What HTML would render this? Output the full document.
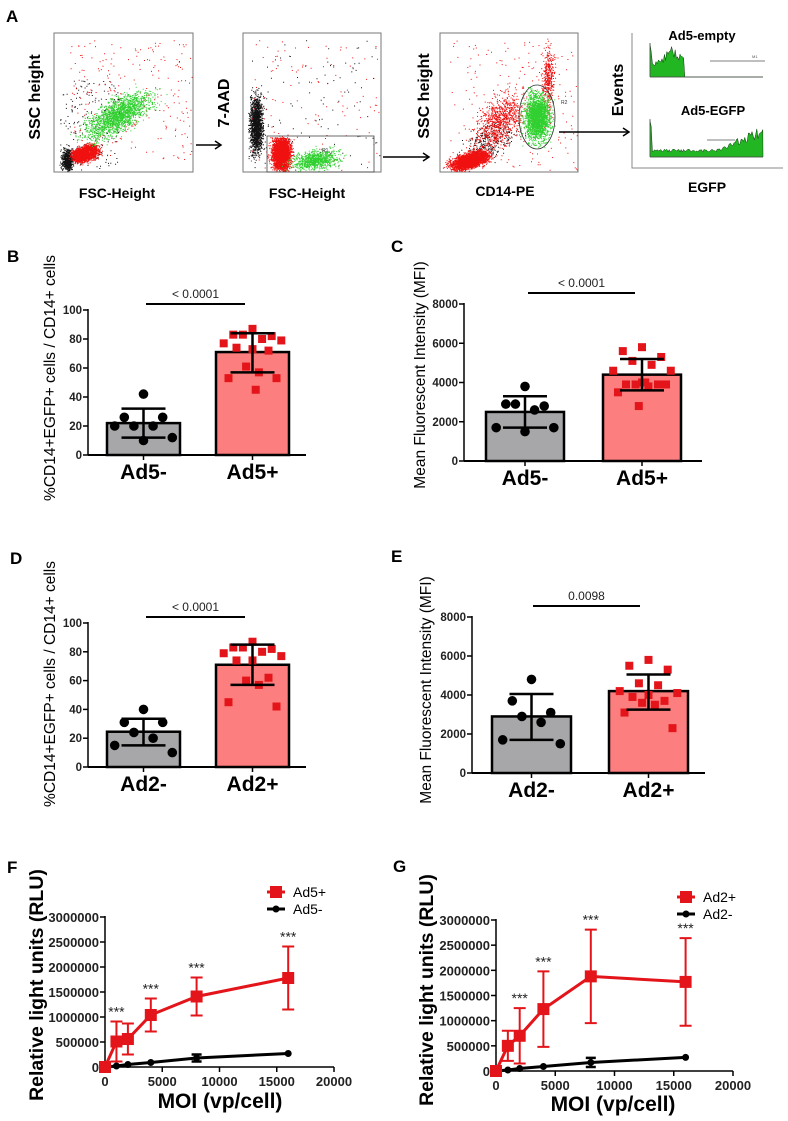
<!DOCTYPE html>
<html><head><meta charset="utf-8">
<style>
html,body{margin:0;padding:0;background:#fff;}
svg{display:block;font-family:"Liberation Sans",Arial,sans-serif;}
</style></head>
<body>
<svg id="fig" width="788" height="1121" viewBox="0 0 788 1121" xmlns="http://www.w3.org/2000/svg">
<g id="panelA">
  <text x="6" y="22" font-size="17" font-weight="bold">A</text>
  <rect x="54" y="33" width="139" height="139" fill="none" stroke="#777" stroke-width="1"/>
  <rect x="243" y="33" width="138" height="139" fill="none" stroke="#777" stroke-width="1"/>
  <rect x="440" y="33" width="138" height="139" fill="none" stroke="#777" stroke-width="1"/>
  <g id="dots"></g>
  <rect x="267" y="136" width="107" height="36" fill="none" stroke="#444" stroke-width="0.8"/>
  <text x="322" y="152" font-size="5" fill="#333">R1</text>
  <ellipse cx="537" cy="117" rx="18" ry="32" fill="none" stroke="#333" stroke-width="0.8"/>
  <text x="561" y="104" font-size="5" fill="#333">R2</text>
  <text transform="translate(40,97) rotate(-90)" text-anchor="middle" font-size="16" font-weight="bold">SSC height</text>
  <text x="117" y="198" text-anchor="middle" font-size="14" font-weight="bold">FSC-Height</text>
  <text transform="translate(229,103) rotate(-90)" text-anchor="middle" font-size="16" font-weight="bold">7-AAD</text>
  <text x="307" y="198" text-anchor="middle" font-size="14" font-weight="bold">FSC-Height</text>
  <text transform="translate(429,96) rotate(-90)" text-anchor="middle" font-size="16" font-weight="bold">SSC height</text>
  <text x="505" y="196" text-anchor="middle" font-size="14" font-weight="bold">CD14-PE</text>
  <text transform="translate(623,90) rotate(-90)" text-anchor="middle" font-size="16" font-weight="bold">Events</text>
  <text x="707" y="192" text-anchor="middle" font-size="14" font-weight="bold">EGFP</text>
  <text x="702" y="40" text-anchor="middle" font-size="13" font-weight="bold">Ad5-empty</text>
  <text x="713" y="115" text-anchor="middle" font-size="13" font-weight="bold">Ad5-EGFP</text>
  <polyline points="632,33 632,168 783,168" fill="none" stroke="#888" stroke-width="1"/>
  <g id="hists"></g>
  <line x1="710" y1="61" x2="765" y2="61" stroke="#555" stroke-width="0.8"/>
  <text x="752" y="58" font-size="4" fill="#555">M1</text>
  <line x1="707" y1="140" x2="735" y2="140" stroke="#555" stroke-width="0.8"/>
  <g stroke="#000" stroke-width="1.5" fill="none">
    <line x1="196" y1="145" x2="220" y2="145"/><polyline points="215,141 221,145 215,149"/>
    <line x1="383" y1="157" x2="428" y2="157"/><polyline points="423,153 429,157 423,161"/>
    <line x1="559" y1="132" x2="628" y2="132"/><polyline points="623,128 629,132 623,136"/>
  </g>
</g>
<g id="charts"></g>
</svg>
<script>
// ---------- Bar chart data ----------
const barCatsB = ["Ad5-","Ad5+"];
const barMeansB = [22, 71];
const barLowB = [12, 57];
const barHighB = [32, 84];
const ptsB0 = [42,26,26,20,20,20,12,10];
const ptsB1 = [87,83,82,83,80,77,79,73,74,72,61,57,53,53,45];

const barCatsC = ["Ad5-","Ad5+"];
const barMeansC = [2500, 4400];
const barLowC = [1700, 3600];
const barHighC = [3300, 5200];
const ptsC0 = [3800,2900,2800,2900,2600,1700,1700,1500];
const ptsC1 = [5800,5600,5300,5100,4900,4600,4600,4000,3900,3900,3900,3800,3500,3900,4000,2800];

const barCatsD = ["Ad2-","Ad2+"];
const barMeansD = [24.5, 71];
const barLowD = [15, 57];
const barHighD = [33.5, 85];
const ptsD0 = [40,31,31,24,20,15,10];
const ptsD1 = [87,83,82,83,80,79,77,74,74,62,60,57,45,42];

const barCatsE = ["Ad2-","Ad2+"];
const barMeansE = [2900, 4200];
const barLowE = [1700, 3250];
const barHighE = [4050, 5050];
const ptsE0 = [4800,3700,3100,2900,2600,1700,1500];
const ptsE1 = [5800,5500,5300,4600,4500,4200,4100,4000,3900,3700,3600,3500,3100,2300];

const pctTicks = [0,20,40,60,80,100];
const mfiTicks = [0,2000,4000,6000,8000];
const pLabelB = "< 0.0001", pLabelC = "< 0.0001", pLabelD = "< 0.0001", pLabelE = "0.0098";

// ---------- Line chart data ----------
const moiX = [0,1000,2000,4000,8000,16000];
const fPos = [0,510000,560000,1040000,1410000,1780000];
const fPosErr = [0,400000,310000,330000,380000,630000];
const fNeg = [0,20000,50000,90000,180000,270000];
const fNegErr = [0,0,0,0,70000,0];
const fStars = [0,1,0,1,1,1];
const gPos = [0,500000,700000,1230000,1880000,1770000];
const gPosErr = [0,300000,550000,750000,930000,870000];
const gNeg = [0,20000,50000,90000,170000,270000];
const gNegErr = [0,0,0,0,90000,0];
const gStars = [0,0,1,1,1,1];
const rluTicks = [0,500000,1000000,1500000,2000000,2500000,3000000];
const moiTicks = [0,5000,10000,15000,20000];

const NS = "http://www.w3.org/2000/svg";
const charts = document.getElementById('charts');
function mk(tag, attrs, parent){
  const e = document.createElementNS(NS, tag);
  for (const k in attrs) e.setAttribute(k, attrs[k]);
  (parent||charts).appendChild(e);
  return e;
}
function txt(x,y,s,size,weight,anchor,parent,fill){
  const t = mk('text',{x:x,y:y,'font-size':size,'font-weight':weight||'normal','text-anchor':anchor||'start',fill:fill||'#000'},parent);
  t.textContent = s;
  return t;
}
const jit = [0,-12,12,-6,6,-18,18,0,-10,10,-4,4,-15,15,2,-2];

function barPanel(o){
  const g = mk('g',{});
  
  
  const y = v => o.y0 - (v - o.min)/(o.max - o.min)*(o.y0 - o.yTop);
  const lbl = txt(o.letterX, o.letterY, o.letter, 17, 'bold', 'start', g);
  
  
  const tt = txt(0,0,o.title,o.titleSize,'normal','middle',g);
  tt.setAttribute('transform','translate('+o.titleX+','+o.titleY+') rotate(-90)');
  
  
  for (let i=0;i<2;i++){
    const xl = o.barX[i], w = o.barW;
    const b = mk('rect',{x:xl,y:y(o.means[i]),width:w,height:o.y0-y(o.means[i]),fill:i?'#fc7e7e':'#a7a7aa',stroke:'#000','stroke-width':2.5},g);
    
    
  }
  const ax = mk('line',{x1:o.ax,y1:o.yTop-1,x2:o.ax,y2:o.y0,stroke:'#000','stroke-width':1.5},g);
  
  
  const xa = mk('line',{x1:o.ax,y1:o.y0,x2:o.axEnd,y2:o.y0,stroke:'#000','stroke-width':2},g);
  
  
  o.ticks.forEach(t=>{
    mk('line',{x1:o.ax-5,y1:y(t),x2:o.ax,y2:y(t),stroke:'#000','stroke-width':1.5},g);
    const tl = txt(o.ax-6, y(t)+4, String(t), 11.5, 'bold', 'end', g, '#222');
    
    
  });
  for (let i=0;i<2;i++){
    const cx = o.barX[i] + o.barW/2;
    mk('line',{x1:cx,y1:o.y0,x2:cx,y2:o.y0+5,stroke:'#000','stroke-width':1.5},g);
    const cl = txt(cx, o.catY, o.cats[i], 21, 'bold', 'middle', g);
    
    
    const pts = o.pts[i];
    pts.forEach((v,k)=>{
      const px = cx + jit[k % jit.length]*1.6;
      let p;
      if (i===0) p = mk('circle',{cx:px,cy:y(v),r:4.8,fill:'#000'},g);
      else p = mk('rect',{x:px-4,y:y(v)-4,width:8,height:8,fill:'#e3151a'},g);
      
      
    });
    const eb = mk('path',{d:'M'+cx+','+y(o.low[i])+'V'+y(o.high[i])+'M'+(cx-22)+','+y(o.low[i])+'h44M'+(cx-22)+','+y(o.high[i])+'h44',stroke:'#000','stroke-width':2.5,fill:'none'},g);
    
    
  }
  const sl = mk('line',{x1:o.sig[0],y1:o.sigY,x2:o.sig[1],y2:o.sigY,stroke:'#000','stroke-width':2},g);
  
  
  const st = txt((o.sig[0]+o.sig[1])/2, o.sigY-6, o.p, 12, 'normal', 'middle', g, '#222');
  
  
}

barPanel({name:'panel-b-chart',letter:'B',letterX:7,letterY:262,title:'%CD14+EGFP+ cells / CD14+ cells',titleSize:15.5,titleX:55,titleY:378,
  y0:455,yTop:310,min:0,max:100,ax:88,axEnd:306,barX:[107,216],barW:73,ticks:pctTicks,cats:barCatsB,means:barMeansB,low:barLowB,high:barHighB,pts:[ptsB0,ptsB1],catY:479,sig:[146,245],sigY:304,p:pLabelB});
barPanel({name:'panel-c-chart',letter:'C',letterX:391,letterY:252,title:'Mean Fluorescent Intensity (MFI)',titleSize:15.5,titleX:425,titleY:375,
  y0:461,yTop:304,min:0,max:8000,ax:464,axEnd:702,barX:[486,603],barW:78,ticks:mfiTicks,cats:barCatsC,means:barMeansC,low:barLowC,high:barHighC,pts:[ptsC0,ptsC1],catY:485,sig:[528,635],sigY:293,p:pLabelC});
barPanel({name:'panel-d-chart',letter:'D',letterX:10,letterY:564,title:'%CD14+EGFP+ cells / CD14+ cells',titleSize:15.5,titleX:55,titleY:684,
  y0:767,yTop:623,min:0,max:100,ax:88,axEnd:306,barX:[107,216],barW:73,ticks:pctTicks,cats:barCatsD,means:barMeansD,low:barLowD,high:barHighD,pts:[ptsD0,ptsD1],catY:791,sig:[146,245],sigY:617,p:pLabelD});
barPanel({name:'panel-e-chart',letter:'E',letterX:391,letterY:562,title:'Mean Fluorescent Intensity (MFI)',titleSize:15.5,titleX:431,titleY:690,
  y0:773,yTop:617,min:0,max:8000,ax:472,axEnd:705,barX:[492,609],barW:79,ticks:mfiTicks,cats:barCatsE,means:barMeansE,low:barLowE,high:barHighE,pts:[ptsE0,ptsE1],catY:797,sig:[533,640],sigY:606,p:pLabelE});

function linePanel(o){
  const g = mk('g',{});
  
  
  const X = v => o.ax + v/20000*(o.xEnd - o.ax);
  const Y = v => o.y0 - v/3000000*(o.y0 - o.yTop);
  const lbl = txt(o.letterX, o.letterY, o.letter, 17, 'bold', 'start', g);
  
  
  const ya = mk('line',{x1:o.ax,y1:o.yTop-1,x2:o.ax,y2:o.y0,stroke:'#000','stroke-width':1.5},g);
  
  
  const xa = mk('line',{x1:o.ax,y1:o.y0,x2:o.xEnd,y2:o.y0,stroke:'#000','stroke-width':1.5},g);
  
  
  rluTicks.forEach(t=>{
    mk('line',{x1:o.ax-5,y1:Y(t),x2:o.ax,y2:Y(t),stroke:'#000','stroke-width':1.5},g);
    const tl = txt(o.ax-6, Y(t)+5, String(t), 13, 'bold', 'end', g, '#222');
    
    
  });
  moiTicks.forEach(t=>{
    mk('line',{x1:X(t),y1:o.y0,x2:X(t),y2:o.y0+5,stroke:'#000','stroke-width':1.5},g);
    const tl = txt(X(t), o.y0+19, String(t), 13, 'bold', 'middle', g, '#222');
    
    
  });
  const yt = txt(0,0,'Relative light units (RLU)',19.5,'bold','middle',g);
  yt.setAttribute('transform','translate('+o.ytX+','+o.ytY+') rotate(-90)');
  
  
  const xt = txt(o.xtX, o.xtY, 'MOI (vp/cell)', 21, 'bold', 'middle', g);
  
  
  const nl = mk('polyline',{points:moiX.map((x,i)=>X(x)+','+Y(o.neg[i])).join(' '),fill:'none',stroke:'#000','stroke-width':3},g);
  
  
  moiX.forEach((x,i)=>{
    if (o.negErr[i]>0){
      const e = mk('path',{d:'M'+X(x)+','+Y(o.neg[i]-o.negErr[i])+'V'+Y(o.neg[i]+o.negErr[i])+'M'+(X(x)-5)+','+Y(o.neg[i]-o.negErr[i])+'h10M'+(X(x)-5)+','+Y(o.neg[i]+o.negErr[i])+'h10',stroke:'#000','stroke-width':2.5,fill:'none'},g);
      
      
    }
    const c = mk('circle',{cx:X(x),cy:Y(o.neg[i]),r:3.5,fill:'#000'},g);
    
    
  });
  moiX.forEach((x,i)=>{
    if (o.posErr[i]>0){
      const lo = Y(o.pos[i]-o.posErr[i]), hi = Y(o.pos[i]+o.posErr[i]);
      const e = mk('path',{d:'M'+X(x)+','+lo+'V'+hi+'M'+(X(x)-6)+','+lo+'h12M'+(X(x)-6)+','+hi+'h12',stroke:'#e3151a','stroke-width':2,fill:'none'},g);
      
      
    }
    if (o.stars[i]){
      const s = txt(X(x), Y(o.pos[i]+o.posErr[i])-5, '***', 14, 'normal', 'middle', g, '#222');
      
      
    }
  });
  const pl = mk('polyline',{points:moiX.map((x,i)=>X(x)+','+Y(o.pos[i])).join(' '),fill:'none',stroke:'#e3151a','stroke-width':3},g);
  
  
  moiX.forEach((x,i)=>{
    const r = mk('rect',{x:X(x)-6,y:Y(o.pos[i])-6,width:12,height:12,fill:'#e3151a'},g);
    
    
  });
  const lg = mk('g',{},g);
  
  
  mk('line',{x1:o.lgX,y1:o.lgY,x2:o.lgX+18,y2:o.lgY,stroke:'#e3151a','stroke-width':3},lg);
  mk('rect',{x:o.lgX+3,y:o.lgY-6,width:12,height:12,fill:'#e3151a'},lg);
  txt(o.lgX+26, o.lgY+5, o.posName, 14, 'normal', 'start', lg);
  mk('line',{x1:o.lgX,y1:o.lgY+17,x2:o.lgX+18,y2:o.lgY+17,stroke:'#000','stroke-width':3},lg);
  mk('circle',{cx:o.lgX+9,cy:o.lgY+17,r:3.5,fill:'#000'},lg);
  txt(o.lgX+26, o.lgY+22, o.negName, 14, 'normal', 'start', lg);
}
linePanel({name:'panel-f-chart',letter:'F',letterX:7,letterY:873,ax:105,xEnd:334,y0:1067,yTop:917,ytX:43,ytY:985,xtX:220,xtY:1108,
  pos:fPos,posErr:fPosErr,neg:fNeg,negErr:fNegErr,stars:fStars,lgX:267,lgY:892,posName:'Ad5+',negName:'Ad5-'});
linePanel({name:'panel-g-chart',letter:'G',letterX:393,letterY:872,ax:496,xEnd:733,y0:1071,yTop:920,ytX:433,ytY:990,xtX:613,xtY:1111,
  pos:gPos,posErr:gPosErr,neg:gNeg,negErr:gNegErr,stars:gStars,lgX:677,lgY:897,posName:'Ad2+',negName:'Ad2-'});

// ---------- Panel A decorative flow cytometry texture ----------
let seed = 12345;
function rnd(){ seed = (seed*16807) % 2147483647; return seed/2147483647; }
function gauss(){ return (rnd()+rnd()+rnd()+rnd()-2)*0.87; }
const dots = document.getElementById('dots');
let path = {r:'',g:'',k:''};
function cloud(col,cx,cy,sx,sy,n,rot,x0,y0,x1,y1){
  const c=Math.cos(rot||0), s=Math.sin(rot||0);
  for(let i=0;i<n;i++){
    const a=gauss()*sx, b=gauss()*sy;
    const x=cx+a*c-b*s, y=cy+a*s+b*c;
    if(x<x0||x>x1||y<y0||y>y1) continue;
    path[col]+='M'+x.toFixed(1)+','+y.toFixed(1)+'h1v1h-1z';
  }
}
function uniform(col,x0,y0,x1,y1,n){
  for(let i=0;i<n;i++){ path[col]+='M'+(x0+rnd()*(x1-x0)).toFixed(1)+','+(y0+rnd()*(y1-y0)).toFixed(1)+'h1v1h-1z'; }
}
uniform('r',70,40,192,160,250); uniform('k',60,80,120,170,200);
cloud('k',67,160,5,10,700,0,55,34,192,171);
cloud('g',118,115,34,14,1800,-0.55,55,34,192,171);
cloud('r',86,153,12,7,1800,-0.3,55,34,192,171);
cloud('r',80,155,7,5,1500,0,55,34,192,171);
uniform('r',250,40,380,170,120); uniform('k',250,40,380,170,100);
cloud('k',256,125,6,28,1500,0,244,34,380,171);
cloud('r',281,153,9,17,3000,0,267,137,380,171);
cloud('g',315,160,22,9,900,-0.2,267,137,380,171);
uniform('r',450,40,577,170,200);
cloud('r',470,160,18,7,3000,-0.3,441,34,577,171);
cloud('r',500,120,30,18,900,-0.9,441,34,577,171);
cloud('k',490,140,25,15,300,-0.5,441,34,577,171);
cloud('r',548,80,6,30,400,0,441,34,577,171);
cloud('g',537,117,12,22,2200,0,520,86,555,148);
[['k','#111'],['r','#f01010'],['g','#2fd02f']].forEach(([k,col])=>{
  const p = mk('path',{d:path[k],fill:col},dots);
  
  
});
const hists = document.getElementById('hists');
function hist(x0,x1,base,shape,h){
  let d='M'+x0+','+base;
  for(let x=x0;x<=x1;x+=1.2){
    const t=(x-x0)/(x1-x0);
    const v=Math.max(0,shape(t))*h*(0.7+0.45*rnd());
    d+='L'+x.toFixed(1)+','+(base-v).toFixed(1);
  }
  d+='L'+x1+','+base+'Z';
  const p = mk('path',{d:d,fill:'#22b722',stroke:'#0a3a0a','stroke-width':0.5},hists);
  
  
  mk('line',{x1:x0,y1:base,x2:x1,y2:base,stroke:'#555','stroke-width':0.8},hists);
  mk('line',{x1:x0,y1:base,x2:x0,y2:base-h-4,stroke:'#555','stroke-width':0.8},hists);
}
hist(650,763,77,t=> t<0.02?1.1:(t<0.3? 0.45+0.5*Math.exp(-Math.pow((t-0.2)/0.08,2)) : 0),30);
hist(650,763,157,t=> t<0.02?1.1:(t<0.6?0.2:(0.2+(t-0.6)*1.6)),34);
</script>
</body></html>
